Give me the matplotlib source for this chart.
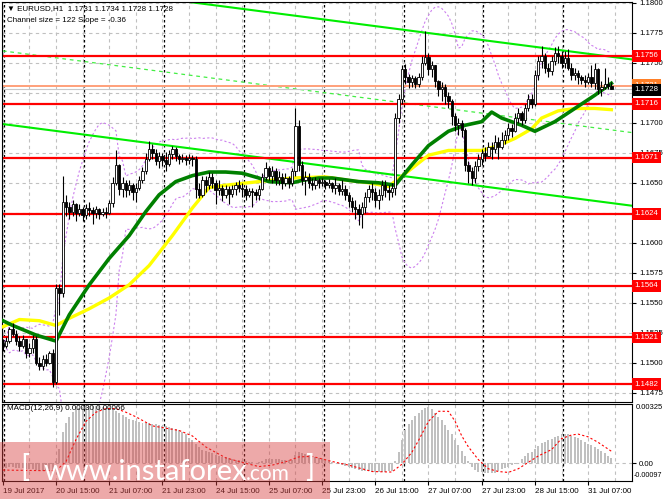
import matplotlib
matplotlib.use("Agg")
import matplotlib.pyplot as plt
from matplotlib.patches import Rectangle
import numpy as np
import pandas as pd

plt.rcParams['font.family'] = ['Liberation Sans', 'DejaVu Sans']

# EURUSD H1, 19 Jul 23:00 .. 31 Jul 14:00 (prices in 1/10000)
bar_close = [11514, 11518, 11528, 11524, 11518, 11514, 11520, 11508, 11512, 11520,
             11500, 11497, 11503, 11500, 11508, 11484, 11562, 11558, 11634, 11630,
             11626, 11632, 11625, 11628, 11623, 11629, 11627, 11625, 11628, 11624,
             11626, 11625, 11633, 11650, 11665, 11645, 11650, 11644, 11648, 11642,
             11646, 11652, 11660, 11670, 11678, 11675, 11668, 11672, 11669, 11666,
             11674, 11678, 11672, 11670, 11671, 11669, 11671, 11670, 11645, 11640,
             11652, 11648, 11655, 11650, 11644, 11646, 11640, 11645, 11641, 11645,
             11648, 11646, 11645, 11640, 11643, 11642, 11640, 11645, 11655, 11662,
             11656, 11660, 11652, 11655, 11650, 11654, 11650, 11660, 11697, 11665,
             11652, 11655, 11650, 11648, 11652, 11650, 11651, 11648, 11650, 11646,
             11648, 11643, 11645, 11640, 11635, 11630, 11628, 11624, 11630, 11638,
             11645, 11642, 11636, 11640, 11648, 11644, 11642, 11646, 11704, 11720,
             11745, 11738, 11734, 11737, 11732, 11738, 11750, 11755, 11745, 11748,
             11735, 11728, 11730, 11722, 11718, 11706, 11698, 11700, 11694, 11665,
             11660, 11654, 11664, 11670, 11675, 11672, 11680, 11678, 11684, 11680,
             11686, 11690, 11696, 11693, 11704, 11708, 11702, 11712, 11720, 11716,
             11740, 11752, 11756, 11746, 11743, 11752, 11758, 11756, 11750, 11754,
             11746, 11740, 11742, 11738, 11736, 11734, 11738, 11733, 11745, 11728,
             11730, 11732, 11731, 11728]
bar_high = [11520, 11521, 11530, 11533, 11527, 11522, 11523, 11520, 11516, 11523,
            11522, 11505, 11506, 11507, 11510, 11511, 11566, 11566, 11656, 11640,
            11634, 11636, 11633, 11632, 11630, 11632, 11634, 11630, 11631, 11629,
            11629, 11630, 11636, 11655, 11677, 11666, 11655, 11652, 11652, 11650,
            11650, 11656, 11663, 11675, 11685, 11682, 11678, 11676, 11675, 11676,
            11677, 11681, 11680, 11674, 11674, 11673, 11674, 11673, 11672, 11650,
            11656, 11656, 11659, 11658, 11652, 11652, 11648, 11648, 11647, 11648,
            11651, 11652, 11650, 11648, 11646, 11646, 11645, 11648, 11658, 11667,
            11664, 11664, 11662, 11660, 11658, 11658, 11656, 11662, 11712, 11702,
            11668, 11660, 11658, 11654, 11655, 11654, 11654, 11652, 11653, 11651,
            11654, 11650, 11652, 11648, 11642, 11638, 11636, 11632, 11634, 11642,
            11648, 11650, 11646, 11645, 11652, 11652, 11648, 11650, 11708, 11724,
            11748, 11749, 11741, 11740, 11739, 11742, 11756, 11777, 11758, 11752,
            11748, 11736, 11734, 11732, 11726, 11720, 11708, 11704, 11702, 11696,
            11668, 11663, 11668, 11674, 11678, 11680, 11684, 11684, 11690, 11688,
            11692, 11694, 11700, 11699, 11708, 11712, 11710, 11716, 11724, 11724,
            11744, 11756, 11764, 11758, 11750, 11756, 11763, 11764, 11760, 11760,
            11762, 11750, 11746, 11744, 11740, 11740, 11742, 11748, 11750, 11746,
            11735, 11746, 11738, 11734]
bar_low = [11510, 11512, 11516, 11522, 11515, 11510, 11512, 11504, 11505, 11508,
           11498, 11494, 11494, 11497, 11499, 11480, 11482, 11540, 11555, 11622,
           11620, 11622, 11618, 11622, 11618, 11620, 11622, 11616, 11621, 11620,
           11622, 11621, 11624, 11630, 11648, 11640, 11638, 11638, 11640, 11636,
           11634, 11644, 11650, 11657, 11668, 11670, 11665, 11662, 11664, 11660,
           11664, 11670, 11668, 11666, 11667, 11665, 11666, 11664, 11637, 11637,
           11638, 11642, 11645, 11646, 11632, 11640, 11635, 11637, 11632, 11638,
           11640, 11642, 11638, 11636, 11638, 11630, 11636, 11636, 11644, 11652,
           11652, 11650, 11648, 11648, 11645, 11647, 11646, 11647, 11656, 11660,
           11648, 11640, 11646, 11644, 11645, 11646, 11647, 11645, 11646, 11642,
           11641, 11640, 11640, 11636, 11630, 11626, 11620, 11615, 11612, 11625,
           11634, 11636, 11630, 11628, 11636, 11638, 11636, 11638, 11640, 11700,
           11716, 11732, 11729, 11730, 11729, 11730, 11736, 11748, 11740, 11738,
           11730, 11722, 11718, 11716, 11712, 11698, 11693, 11690, 11688, 11660,
           11650, 11648, 11650, 11660, 11665, 11668, 11672, 11670, 11675, 11670,
           11678, 11682, 11686, 11688, 11692, 11700, 11698, 11700, 11710, 11712,
           11714, 11736, 11746, 11742, 11738, 11740, 11748, 11750, 11746, 11746,
           11744, 11736, 11736, 11732, 11732, 11730, 11732, 11730, 11728, 11724,
           11722, 11728, 11728, 11728]
first_open = 11516

# moving averages (bar index, price)
green_ma_bar = [0, 3, 10, 16, 20, 26, 32, 38, 43, 47, 52, 57, 62, 67, 72, 77, 80, 87, 90,
                95, 99, 107, 113, 118, 123, 128, 134, 139, 144, 147, 150, 156, 160, 166,
                172, 178, 183]
green_ma_val = [11535, 11531, 11523, 11518, 11540, 11565, 11587, 11606, 11626, 11640,
                11651, 11656, 11659, 11659, 11658, 11654, 11651, 11650, 11652, 11654,
                11654, 11651, 11650, 11648, 11665, 11681, 11693, 11698, 11701, 11709,
                11704, 11698, 11693, 11701, 11712, 11723, 11733]
yellow_ma_bar = [0, 5, 11, 16, 20, 26, 32, 38, 44, 51, 57, 62, 67, 77, 87, 97, 104, 110,
                 116, 123, 128, 134, 144, 149, 154, 159, 162, 167, 172, 178, 183]
yellow_ma_val = [11530, 11536, 11535, 11531, 11537, 11545, 11554, 11565, 11581, 11606,
                 11629, 11646, 11648, 11651, 11654, 11655, 11652, 11650, 11647, 11662,
                 11673, 11677, 11677, 11681, 11687, 11695, 11704, 11710, 11712, 11712,
                 11711]

# MACD histogram per bar and signal line (units of 1e-5)
macd_hist = [-25, -25, -20, -20, -25, -28, -28, -32, -33, -30, -35, -40, -42, -42, -40, -48,
             15, 80, 170, 220, 255, 280, 295, 305, 310, 314, 316, 316, 315, 312, 308, 302,
             296, 290, 285, 275, 265, 255, 245, 237, 230,
             225, 222, 220, 220, 218, 214, 210, 206, 202, 198, 195, 190, 180, 170, 160, 140,
             125, 105, 90,
             75, 68, 62, 56, 48, 42, 36, 32, 28, 24, 20, 16, 12, 10, 8, 5, 4,
             8, 14, 22, 24, 25, 22, 22, 18, 18, 16, 18,
             45, 60, 55, 50, 45, 40, 35, 30, 25, 18, 12, 6, 2, -2,
             -8, -14, -20, -26, -32, -38, -42, -44, -44, -46, -48, -50, -48, -46, -44, -40,
             10, 60, 130, 180, 215, 240, 260, 275, 292, 305, 310, 300, 275, 255, 235, 210,
             185, 160, 130, 100, 70, 40, 10,
             -20, -35, -45, -50, -55, -55, -55, -52, -40, -32, -25, -18, -12, -5, 0,
             25, 40, 55, 62, 80, 95, 110, 118, 125, 135, 145, 152, 158,
             160, 158, 152, 145, 138, 128, 118, 108, 98, 90, 80, 68, 55, 42, 30]
signal_bar = [0, 11, 16, 19, 22, 25, 28, 31, 34, 37, 40, 45, 53, 57, 61, 67, 73, 77, 81,
              85, 89, 93, 99, 104, 111, 117, 120, 123, 125, 128, 131, 134, 136, 138, 140,
              143, 146, 149, 152, 155, 158, 161, 165, 168, 171, 173, 176, 179, 183]
signal_val = [-37, -40, -40, 10, 130, 230, 280, 300, 300, 280, 255, 205, 180, 150, 90, 30,
              0, -18, -10, 8, 35, 38, 10, -10, -45, -48, -5, 60, 125, 230, 285, 285, 230,
              150, 90, 20, -30, -45, -50, -30, 5, 40, 75, 135, 155, 160, 145, 115, 66]

levels = [1.1756, 1.1716, 1.1671, 1.1624, 1.1564, 1.1521, 1.1482]
ask_price = 1.1731
bid_price = 1.1728

# regression channel
chan_start_bar = 0
chan_lower_start = 1.1699
chan_slope = -0.000036
chan_size = 0.0122

tick_bars = [0, 16, 32, 48, 64, 80, 96, 112, 128, 144, 160, 176]
tick_labels = ['19 Jul 2017', '20 Jul 15:00', '21 Jul 07:00', '21 Jul 23:00',
               '24 Jul 15:00', '25 Jul 07:00', '25 Jul 23:00', '26 Jul 15:00',
               '27 Jul 07:00', '27 Jul 23:00', '28 Jul 15:00', '31 Jul 07:00']
day_bars = [1, 25, 49, 73, 97, 121, 145, 169]

c = np.array(bar_close) / 10000
h = np.array(bar_high) / 10000
l = np.array(bar_low) / 10000
o = np.array([first_open] + bar_close[:-1]) / 10000
idx = np.arange(len(c))

W, H = 665, 499
fig = plt.figure(figsize=(W / 100, H / 100), dpi=100)
ax = fig.add_axes([2 / W, 1 - 402 / H, 630 / W, 400 / H])
axm = fig.add_axes([2 / W, 1 - 481 / H, 630 / W, 77 / H])

xmin, xmax = -0.25, 189.2
grid_kw = dict(color='#c0c0c0', lw=0.8, ls=(0, (3, 3)), zorder=0)
for a in (ax, axm):
    a.set_xlim(xmin, xmax)
    for b in range(0, 190, 8):
        a.axvline(b, **grid_kw)
    for b in day_bars:
        a.axvline(b - 0.5, color='black', lw=0.9, ls=(0, (2, 2)), zorder=0.5)
    for s in a.spines.values():
        s.set_linewidth(0.8)

# main price window
ax.set_ylim(1.14672, 1.18008)
yt = np.arange(1.1475, 1.18001, 0.0025)
for y in yt:
    ax.axhline(y, **grid_kw)
ax.yaxis.tick_right()
ax.set_yticks(yt)
ax.set_yticklabels(['' if abs(y - 1.1725) < 1e-6 or abs(y - 1.1625) < 1e-6 else '%.4f' % y
                    for y in yt])
ax.tick_params(axis='y', labelsize=5.6, length=3, pad=2, width=0.8)
ax.set_xticks([])

# bollinger bands (20, 2)
cs = pd.Series(c)
mid = cs.rolling(20, min_periods=1).mean()
sd = cs.rolling(20, min_periods=1).std(ddof=0)
ax.plot(idx, mid + 2 * sd, color='#cc80ee', lw=0.8, ls=(0, (2, 2)), zorder=1)
ax.plot(idx, mid - 2 * sd, color='#cc80ee', lw=0.8, ls=(0, (2, 2)), zorder=1)

# channel
xs = np.array([chan_start_bar, xmax])
lower = chan_lower_start + chan_slope * (xs - chan_start_bar)
ax.plot(xs, lower, color='#00ee00', lw=1.5, zorder=2)
ax.plot(xs, lower + chan_size, color='#00ee00', lw=1.5, zorder=2)
ax.plot(xs, lower + chan_size / 2, color='#44ee44', lw=0.9, ls=(0, (3, 3)), zorder=2)

for lv in levels:
    ax.axhline(lv, color='#ff0000', lw=1.6, zorder=2)
ax.axhline(ask_price, color='#ffa07a', lw=1.4, zorder=2)
ax.axhline(bid_price, color='#c8c8c8', lw=0.8, zorder=2)

ax.plot(yellow_ma_bar, np.array(yellow_ma_val) / 10000, color='#ffff00', lw=2.4, zorder=3)
ax.plot(green_ma_bar, np.array(green_ma_val) / 10000, color='#008000', lw=2.6, zorder=3)

# candles
up = c >= o
ax.vlines(idx, l, h, color='black', lw=0.8, zorder=4)
body = np.maximum(np.abs(c - o), 0.00001)
ax.bar(idx, body, bottom=np.minimum(o, c), width=0.7,
       color=np.where(up, 'white', 'black'), edgecolor='black', lw=0.6, zorder=5)

ytr = ax.get_yaxis_transform()
box_kw = dict(transform=ytr, fontsize=5.6, color='white', va='center', ha='left',
              zorder=10, clip_on=False)
for lv in levels:
    ax.text(1.004, lv, '%.4f' % lv,
            bbox=dict(boxstyle='square,pad=0.3', fc='#ff0000', ec='none'), **box_kw)
ax.text(1.004, ask_price + 0.00004, '%.4f' % ask_price,
        bbox=dict(boxstyle='square,pad=0.3', fc='#ff7f27', ec='none'), **box_kw)
ax.text(1.004, bid_price - 0.00004, '%.4f' % bid_price,
        bbox=dict(boxstyle='square,pad=0.3', fc='black', ec='none'), **box_kw)

ax.text(0.008, 0.993, '\u25bc EURUSD,H1  %.4f %.4f %.4f %.4f' % (o[-1], h[-1], l[-1], c[-1]),
        transform=ax.transAxes, fontsize=5.8, va='top', ha='left')
ax.text(0.008, 0.962, 'Channel size = 122 Slope = -0.36', transform=ax.transAxes,
        fontsize=5.8, va='top', ha='left')

# MACD (12, 26, 9)
hist = np.array(macd_hist) / 1e5
axm.set_ylim(-0.00097, 0.00325)
axm.axhline(0, **grid_kw)
axm.bar(idx, hist, width=0.6, color='#c0c0c0', zorder=2)
axm.plot(signal_bar, np.array(signal_val) / 1e5, color='#ff0000', lw=0.8,
         ls=(0, (2, 2)), zorder=3)
axm.yaxis.tick_right()
axm.set_yticks([0.0])
axm.set_yticklabels(['0.00'])
axm.tick_params(axis='y', labelsize=5.6, length=3, pad=2, width=0.8)
axm.text(1.0055, 0.995, '0.00325', transform=axm.transAxes, fontsize=5.5, va='top', ha='left')
axm.text(1.002, 0.02, '-0.00097', transform=axm.transAxes, fontsize=5.2, va='bottom',
         ha='left')
axm.text(0.008, 0.985, 'MACD(12,26,9) %.5f %.5f' % (hist[-1], signal_val[-1] / 1e5),
         transform=axm.transAxes, fontsize=5.8, va='top', ha='left')
axm.set_xticks(tick_bars)
axm.set_xticklabels(tick_labels, ha='left')
axm.tick_params(axis='x', labelsize=5.8, length=3, pad=2, width=0.8)

# watermark
fig.patches.append(Rectangle((0, 0), 330 / W, 57 / H, transform=fig.transFigure,
                             fc='#d84040', alpha=0.45, ec='none', zorder=20))
fig.text(20 / W, 1 - 468 / H, '[', fontsize=22, color='white', va='center', ha='left',
         family='Lato', zorder=21)
fig.text(44 / W, 1 - 480 / H, 'www.instaforex', fontsize=21, color='white', va='baseline',
         ha='left', family='Lato', zorder=21)
fig.text(246 / W, 1 - 480 / H, '.com', fontsize=15, color='white', va='baseline',
         ha='left', family='Lato', zorder=21)
fig.text(305 / W, 1 - 468 / H, ']', fontsize=22, color='white', va='center', ha='left',
         family='Lato', zorder=21)

fig.savefig('out.png', dpi=100)
